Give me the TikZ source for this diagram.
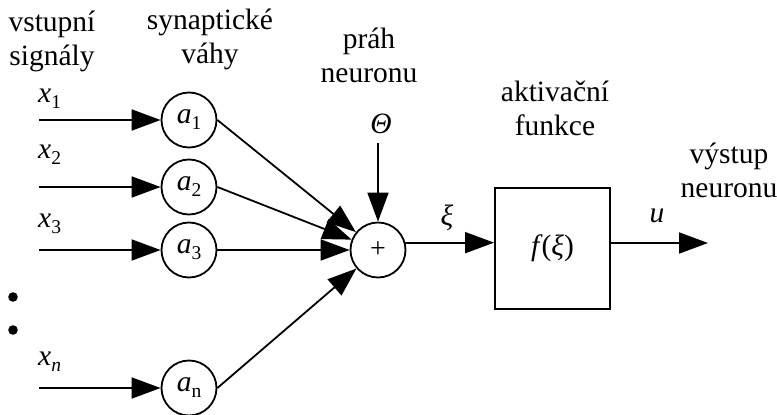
\documentclass[tikz,border=0pt]{standalone}
\usepackage{fontspec}
\setmainfont{Liberation Serif}
\usetikzlibrary{arrows.meta}
\newcommand\lsub[1]{\raisebox{-6pt}{\fontsize{19.5}{19.5}\selectfont #1}}
\begin{document}
\begin{tikzpicture}[x=1pt,y=-1pt,
  lbl/.style={font=\fontsize{29.5}{34}\selectfont, align=center, inner sep=0pt},
  wc/.style={circle, draw, line width=1.8pt, minimum size=55pt, inner sep=0pt, font=\fontsize{29.5}{34}\selectfont},
  arr/.style={line width=1.8pt, -{Triangle[length=29pt,width=21pt]}},
  ln/.style={line width=1.8pt}]
\useasboundingbox (0,0) rectangle (777,415);
% header labels (anchor base = baseline of the last line)
\node[lbl, anchor=base] (h1) at (52,65) {vstupní\\signály};
\node[lbl, anchor=base] (h2) at (210,63) {synaptické\\váhy};
\node[lbl, anchor=base] (h3) at (369,82) {práh\\neuronu};
\node[lbl, anchor=base] (h4) at (555,135) {aktivační\\funkce};
\node[lbl, anchor=base] (h5) at (729,197) {výstup\\neuronu};
% weight nodes
\node[wc] (a1) at (189,120) {\textit{a}\lsub{1}};
\node[wc] (a2) at (189,187) {\textit{a}\lsub{2}};
\node[wc] (a3) at (189,250) {\textit{a}\lsub{3}};
\node[wc] (an) at (189,388) {\textit{a}\lsub{n}};
% inputs
\coordinate (i1) at (39,120);
\coordinate (i2) at (39,187);
\coordinate (i3) at (39,250);
\coordinate (in) at (39,388);
\draw[arr] (i1) -- (a1);
\draw[arr] (i2) -- (a2);
\draw[arr] (i3) -- (a3);
\draw[arr] (in) -- (an);
\node[lbl, anchor=base west] (x1) at (38,102) {\textit{x}\lsub{1}};
\node[lbl, anchor=base west] (x2) at (38,158) {\textit{x}\lsub{2}};
\node[lbl, anchor=base west] (x3) at (38,227) {\textit{x}\lsub{3}};
\node[lbl, anchor=base west] (xn) at (38,365) {\textit{x}\lsub{\textit{n}}};
\fill (13,297) circle (4.8);
\fill (13,330) circle (4.8);
% summation
\node[wc] (s) at (378,250) {\fontsize{28}{28}\selectfont +};
\draw[arr] (a1.east) -- (s);
\draw[arr] (a2.east) -- (s);
\draw[arr] (a3) -- (s);
\draw[arr] (an.east) -- (s);
% threshold
\node[lbl, anchor=base] (th) at (381,133) {\textit{Θ}};
\coordinate (thc) at (378,143);
\draw[arr] (thc) -- (s);
% activation box
\node[draw, line width=1.8pt, minimum width=115pt, minimum height=121pt, inner sep=0pt, font=\fontsize{29.5}{34}\selectfont] (f) at (552.5,248.5) {\textit{f}\kern-1pt(\textit{ξ})};
\draw[arr] (s.15) -- (s.15 -| f.west);
\node[lbl, anchor=base] (xi) at (447,225) {\textit{ξ}};
% output
\coordinate (out) at (708,243);
\draw[arr] (out -| f.east) -- (out);
\node[lbl, anchor=base] (u) at (657,222) {\textit{u}};
\end{tikzpicture}
\end{document}
